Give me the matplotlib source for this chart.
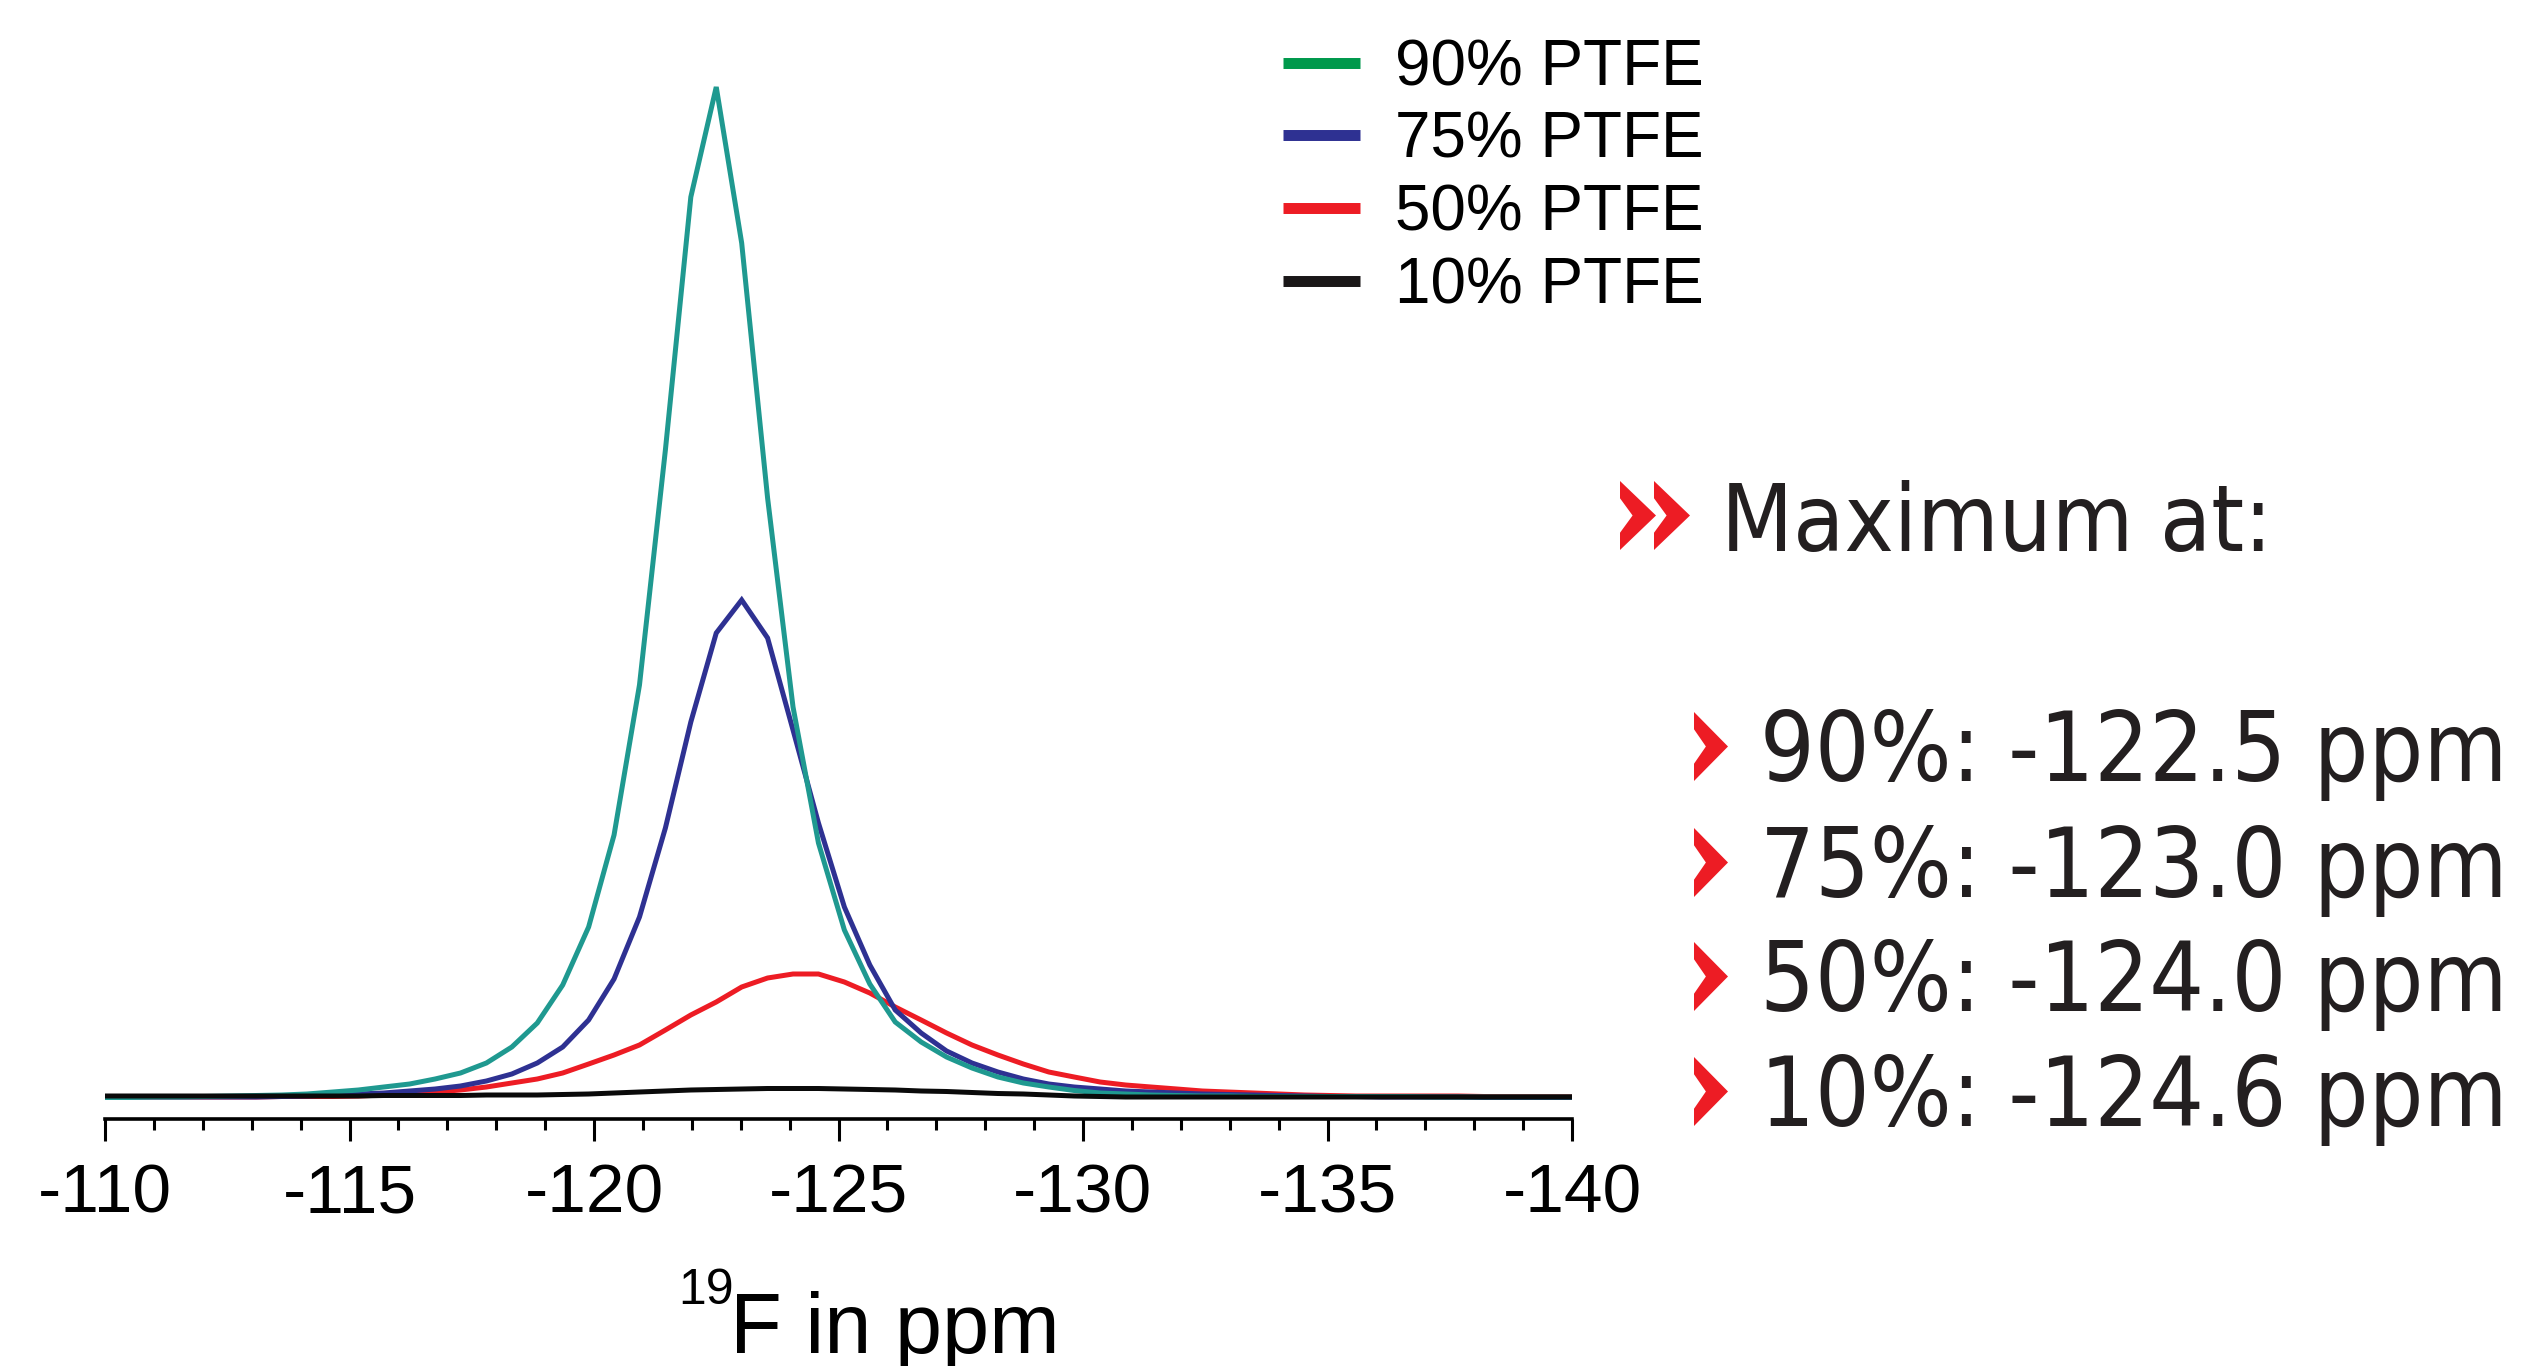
import matplotlib
matplotlib.use('Agg')
import matplotlib.pyplot as plt
from matplotlib.lines import Line2D
from matplotlib.patches import Polygon
from matplotlib import font_manager
from matplotlib.ticker import MultipleLocator

plt.rcParams['font.family'] = ['Liberation Sans', 'DejaVu Sans']
plt.rcParams['axes.unicode_minus'] = False

# chemical shift axis (ppm), sampled points of the spectra
ppm = [-109.95, -110.47, -111.00, -111.52, -112.04, -112.57, -113.09, -113.61,
       -114.13, -114.66, -115.18, -115.70, -116.23, -116.75, -117.27, -117.80,
       -118.32, -118.84, -119.36, -119.89, -120.41, -120.93, -121.46, -121.98,
       -122.50, -123.02, -123.55, -124.07, -124.59, -125.12, -125.64, -126.16,
       -126.69, -127.21, -127.73, -128.26, -128.78, -129.30, -129.82, -130.35,
       -130.87, -131.39, -131.92, -132.44, -132.96, -133.49, -134.01, -134.53,
       -135.05, -135.58, -136.10, -136.62, -137.15, -137.67, -138.19, -138.72,
       -139.24, -139.76, -140.28]

# intensities (a.u.)
ptfe90 = [0.5, 0.5, 1, 1, 1.5, 2, 2.5, 3, 4, 6, 8, 11, 14, 19, 25, 35,
          51, 75, 113, 171, 263, 413, 648, 901, 1011, 855, 600, 391, 255, 168,
          114, 76, 56, 41, 30, 21, 15, 11, 7.5, 5, 4, 3, 2.5, 2, 2, 1.5,
          1.5, 1.5, 1.5, 1.5, 1.5, 1.5, 1, 1, 1, 1, 1, 1, 1]
ptfe75 = [1, 1, 1, 1, 1, 1, 1, 1.5, 2, 3, 4, 5, 7, 9, 12, 17,
          24, 35, 51, 78, 119, 181, 270, 376, 465, 498, 460, 368, 275, 191,
          133, 88, 65, 47, 35, 26, 19, 14, 11, 9, 7, 6, 5, 4, 3.5, 3,
          2.5, 2, 1.5, 1.5, 1, 1, 1, 1, 0.5, 0.5, 0.5, 0.5, 0.5]
ptfe50 = [1, 1, 1, 1, 1, 1, 1, 1.5, 1.5, 1.5, 2, 3, 4, 6, 8, 11,
          15, 19, 25, 34, 43, 53, 68, 83, 96, 111, 120, 124, 124, 116,
          105, 91, 78, 65, 53, 43, 34, 26, 21, 16, 13, 11, 9, 7, 6, 5,
          4, 3, 2.5, 2, 2, 2, 2, 2, 1.5, 1.5, 1.5, 1.5, 1.5]
ptfe10 = [2, 2, 2, 2, 2, 2, 2, 2, 2, 2, 2, 2.5, 2.5, 2.5, 2.5, 3,
          3, 3, 3.5, 4, 5, 6, 7, 8, 8.5, 9, 9.5, 9.5, 9.5, 9,
          8.5, 8, 7, 6.5, 5.5, 4.5, 4, 3, 2, 1.5, 1, 1, 1, 1, 1, 1,
          1, 1, 1, 1, 1, 1, 1, 1, 1, 1, 1, 1, 1]

labels = ['90% PTFE', '75% PTFE', '50% PTFE', '10% PTFE']
legend_colors = ['#00994c', '#2e3192', '#ed1c24', '#1a1718']
maxima = ['90%: -122.5 ppm', '75%: -123.0 ppm', '50%: -124.0 ppm', '10%: -124.6 ppm']

W, H = 2523, 1366
fig = plt.figure(figsize=(W / 100, H / 100), dpi=100)
ax = fig.add_axes([105 / W, (H - 1103) / H, 1467 / W, 1035 / H])

lw = 3.6
ax.plot(ppm, ptfe50, color='#ed1c24', lw=lw, solid_joinstyle='miter')
ax.plot(ppm, ptfe75, color='#2e3192', lw=lw, solid_joinstyle='miter')
ax.plot(ppm, ptfe90, color='#1f9990', lw=lw, solid_joinstyle='miter')
ax.plot(ppm, ptfe10, color='#0a0a0a', lw=lw, solid_joinstyle='miter')

ax.set_xlim(-110, -140)
ax.set_ylim(-5, 1030)
ax.xaxis.set_major_locator(MultipleLocator(5))
ax.xaxis.set_minor_locator(MultipleLocator(1))
ax.set_yticks([])
for s in ['left', 'right', 'top']:
    ax.spines[s].set_visible(False)
ax.spines['bottom'].set_position(('outward', 11.5))
ax.spines['bottom'].set_linewidth(2.6)
ax.tick_params(axis='x', which='major', direction='out', length=16, width=2.2,
               labelsize=50, pad=15, colors='black')
ax.tick_params(axis='x', which='minor', direction='out', length=8, width=2.2)
ax.patch.set_visible(False)

# axis label with superscript isotope number
fig.text(678 / W, (H - 1304) / H, '19', fontsize=36, ha='left', va='baseline')
fig.text(730 / W, (H - 1353) / H, 'F in ppm', fontsize=61, ha='left', va='baseline')

handles = [Line2D([0], [0], color=c, lw=7.9, solid_capstyle='butt') for c in legend_colors]
fig.legend(handles, labels, loc='upper left', bbox_to_anchor=(1283 / W, (H - 38) / H),
           frameon=False, fontsize=46, handlelength=1.2, handletextpad=0.55,
           labelspacing=0.2, borderpad=0, borderaxespad=0)

# right-hand annotation
red = '#ed1c24'
dark = '#231f20'


def chevron(x0, y0, w, h):
    shape = [(0, 0), (1, 0.5), (0, 1), (0, 0.75), (0.35, 0.5), (0, 0.25)]
    pts = [((x0 + sx * w) / W, 1 - (y0 + sy * h) / H) for sx, sy in shape]
    fig.patches.append(Polygon(pts, closed=True, transform=fig.transFigure,
                               facecolor=red, edgecolor='none'))


fp = font_manager.FontProperties(family='DejaVu Sans', stretch='condensed')
condensed = 'Condensed' in font_manager.findfont(fp)
if condensed:
    tfont = dict(family='DejaVu Sans', stretch='condensed')
    hsize, lsize = 67, 69
else:
    tfont = dict(family='DejaVu Sans')
    hsize, lsize = 60, 62

chevron(1620, 481, 36, 69)
chevron(1654, 481, 36, 69)
fig.text(1721 / W, (H - 551) / H, 'Maximum at:', fontsize=hsize, color=dark,
         ha='left', va='baseline', **tfont)

rows = [781, 897, 1011, 1126]
for txt, yb in zip(maxima, rows):
    chevron(1694, yb - 69, 34, 69)
    fig.text(1760 / W, (H - yb) / H, txt, fontsize=lsize, color=dark,
             ha='left', va='baseline', **tfont)

fig.savefig('out.png', dpi=100)
